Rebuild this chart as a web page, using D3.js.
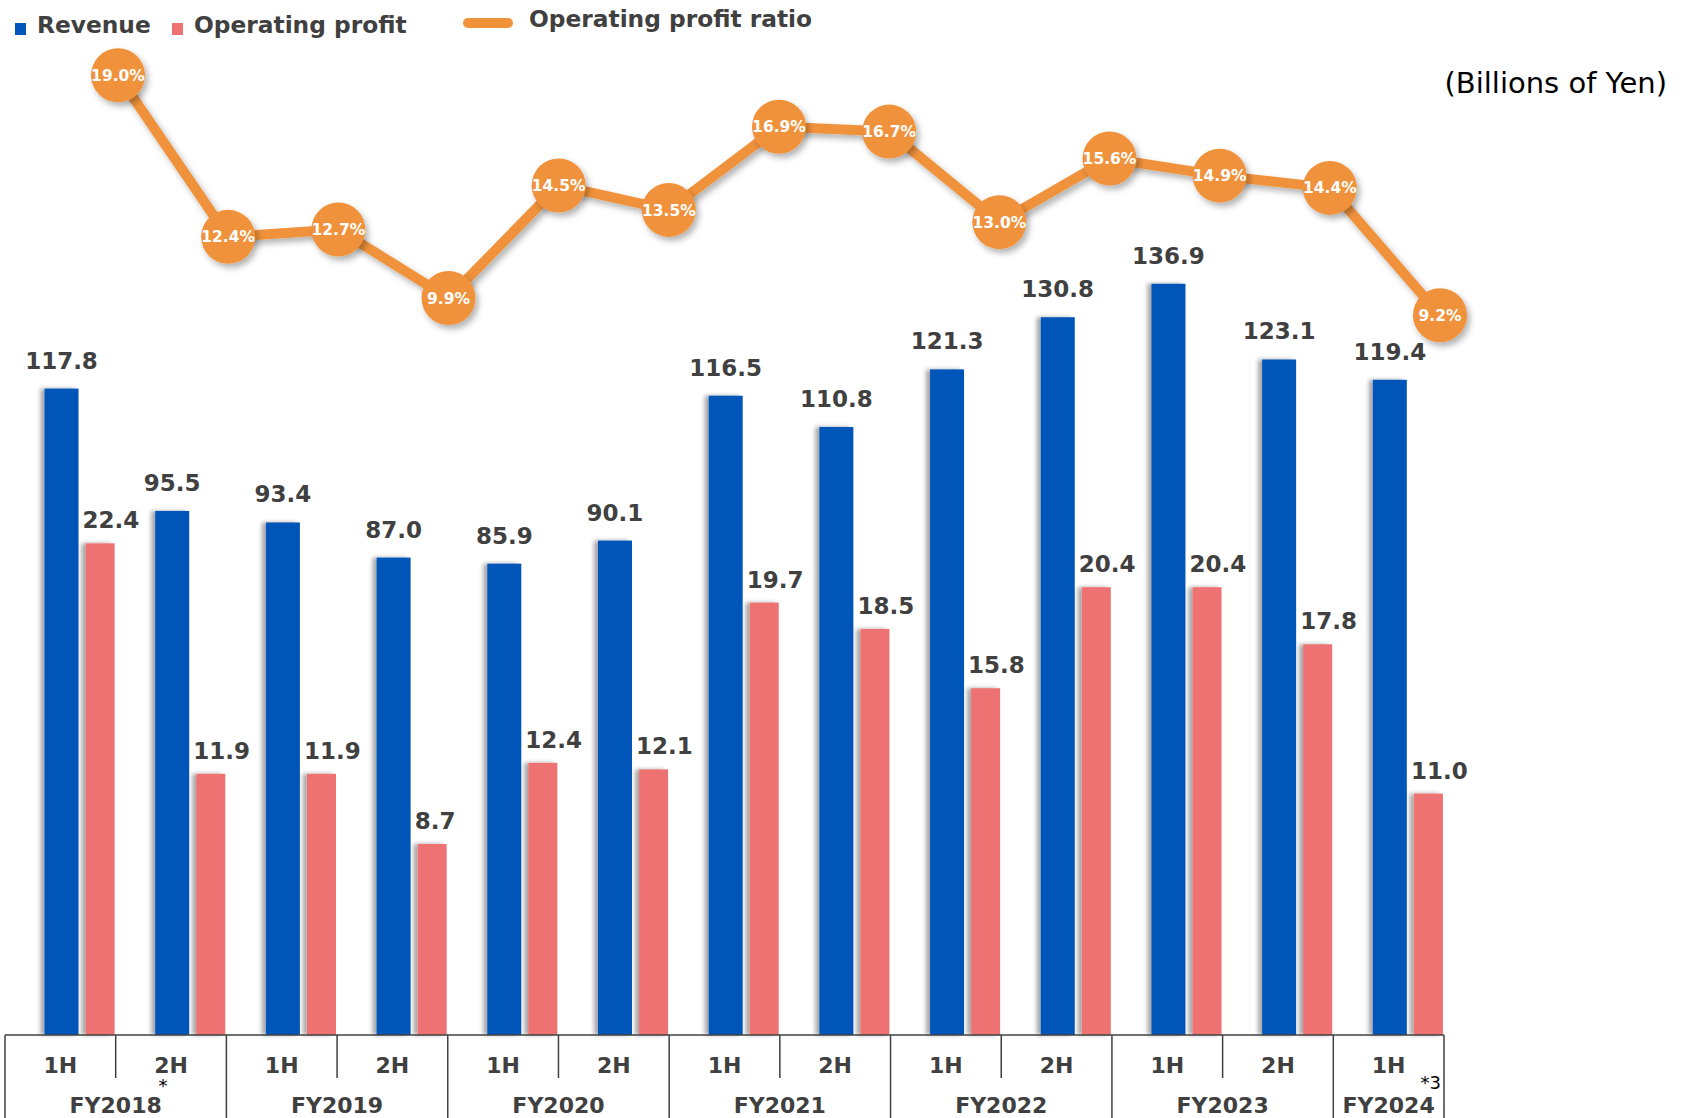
<!DOCTYPE html>
<html>
  <head>
    <meta charset="utf-8">
    <title>Revenue and Operating profit</title>
    <script src="https://d3js.org/d3.v7.min.js"></script>
    <style>
      body { margin: 0; background: #fff; }
      svg { display: block; }
      text { font-family: "DejaVu Sans", Verdana, sans-serif; }
    </style>
  </head>
  <body>
    <div id="chart"></div>
    <script>
      // data
      var halves = ["1H", "2H", "1H", "2H", "1H", "2H", "1H", "2H", "1H", "2H", "1H", "2H", "1H"];
      var years = ["FY2018", "FY2019", "FY2020", "FY2021", "FY2022", "FY2023", "FY2024"];
      var halvesPerYear = [2, 2, 2, 2, 2, 2, 1];
      var revenue = [117.8, 95.5, 93.4, 87.0, 85.9, 90.1, 116.5, 110.8, 121.3, 130.8, 136.9, 123.1, 119.4];
      var profit = [22.4, 11.9, 11.9, 8.7, 12.4, 12.1, 19.7, 18.5, 15.8, 20.4, 20.4, 17.8, 11.0];
      var ratio = [19.0, 12.4, 12.7, 9.9, 14.5, 13.5, 16.9, 16.7, 13.0, 15.6, 14.9, 14.4, 9.2];

      var W = 1687, H = 1118;
      var base = 1035;
      var blue = "#0055b8", pink = "#ef7272", orange = "#f0923a", ink = "#404040";

      var svg = d3.select("#chart").append("svg")
        .attr("width", W)
        .attr("height", H);

      var defs = svg.append("defs");
      var f1 = defs.append("filter").attr("id", "barShadow")
        .attr("x", "-30%").attr("y", "-5%").attr("width", "160%").attr("height", "110%");
      f1.append("feDropShadow").attr("dx", -4).attr("dy", 0).attr("stdDeviation", 2)
        .attr("flood-color", "#000").attr("flood-opacity", 0.35);
      var f2 = defs.append("filter").attr("id", "dotShadow")
        .attr("x", "-30%").attr("y", "-30%").attr("width", "160%").attr("height", "160%");
      f2.append("feDropShadow").attr("dx", 3).attr("dy", 4).attr("stdDeviation", 3)
        .attr("flood-color", "#000").attr("flood-opacity", 0.3);

      var ids = halves.map(function(d, i) { return i; });

      var x = d3.scaleBand().domain(ids).range([5, 1444]).padding(0);
      var xLine = d3.scalePoint().domain(ids).range([118, 1440]);
      var yRev = d3.scaleLinear().domain([0, 160]).range([base, 157]);
      var yProf = d3.scaleLinear().domain([0, 40]).range([base, 157]);
      var yRatio = d3.scaleLinear().domain([0, 20]).range([540.4, 50.8]);

      var bw = x.bandwidth();
      var blueOff = bw * 0.357, blueW = 34;
      var pinkOff = bw * 0.728, pinkW = 29;

      // bars
      var g = svg.append("g");
      g.selectAll(".rev")
        .data(revenue)
        .enter().append("rect")
        .attr("class", "rev")
        .attr("x", function(d, i) { return x(i) + blueOff; })
        .attr("y", function(d) { return yRev(d); })
        .attr("width", blueW)
        .attr("height", function(d) { return base - yRev(d); })
        .attr("fill", blue)
        .attr("filter", "url(#barShadow)");
      g.selectAll(".prof")
        .data(profit)
        .enter().append("rect")
        .attr("class", "prof")
        .attr("x", function(d, i) { return x(i) + pinkOff; })
        .attr("y", function(d) { return yProf(d); })
        .attr("width", pinkW)
        .attr("height", function(d) { return base - yProf(d); })
        .attr("fill", pink)
        .attr("filter", "url(#barShadow)");

      g.selectAll(".revLabel")
        .data(revenue)
        .enter().append("text")
        .attr("x", function(d, i) { return x(i) + blueOff + blueW / 2; })
        .attr("y", function(d) { return yRev(d) - 20; })
        .attr("text-anchor", "middle")
        .attr("font-size", 23)
        .attr("font-weight", "bold")
        .attr("fill", ink)
        .text(function(d) { return d.toFixed(1); });
      g.selectAll(".profLabel")
        .data(profit)
        .enter().append("text")
        .attr("x", function(d, i) { return x(i) + pinkOff - 3; })
        .attr("y", function(d) { return yProf(d) - 15; })
        .attr("text-anchor", "start")
        .attr("font-size", 23)
        .attr("font-weight", "bold")
        .attr("fill", ink)
        .text(function(d) { return d.toFixed(1); });

      // ratio line
      var line = d3.line()
        .x(function(d, i) { return xLine(i); })
        .y(function(d) { return yRatio(d); });
      var lg = svg.append("g");
      lg.append("path")
        .datum(ratio)
        .attr("d", line)
        .attr("fill", "none")
        .attr("stroke", orange)
        .attr("stroke-width", 10)
        .attr("stroke-linejoin", "round")
        .attr("filter", "url(#dotShadow)");
      lg.selectAll("circle")
        .data(ratio)
        .enter().append("circle")
        .attr("cx", function(d, i) { return xLine(i); })
        .attr("cy", function(d) { return yRatio(d); })
        .attr("r", 27)
        .attr("fill", orange)
        .attr("filter", "url(#dotShadow)");
      lg.selectAll(".ratioLabel")
        .data(ratio)
        .enter().append("text")
        .attr("x", function(d, i) { return xLine(i); })
        .attr("y", function(d) { return yRatio(d); })
        .attr("dy", "0.36em")
        .attr("text-anchor", "middle")
        .attr("font-size", 15.5)
        .attr("font-weight", "bold")
        .attr("fill", "#fff")
        .text(function(d) { return d.toFixed(1) + "%"; });

      // category table under the bars
      var ax = svg.append("g").attr("stroke", ink).attr("stroke-width", 1.5);
      ax.append("line").attr("x1", x(0)).attr("x2", x(12) + bw).attr("y1", base).attr("y2", base);
      var starts = [];
      var s = 0;
      halvesPerYear.forEach(function(n) { starts.push(s); s += n; });
      starts.concat([s]).forEach(function(k) {
        var xx = k < halves.length ? x(k) : x(halves.length - 1) + bw;
        ax.append("line").attr("x1", xx).attr("x2", xx).attr("y1", base).attr("y2", H);
      });
      starts.forEach(function(k, j) {
        if (halvesPerYear[j] > 1) {
          ax.append("line").attr("x1", x(k + 1)).attr("x2", x(k + 1)).attr("y1", base).attr("y2", 1078);
        }
      });

      svg.append("g").selectAll("text")
        .data(halves)
        .enter().append("text")
        .attr("x", function(d, i) { return x(i) + bw / 2; })
        .attr("y", 1073)
        .attr("text-anchor", "middle")
        .attr("font-size", 22)
        .attr("font-weight", "bold")
        .attr("fill", ink)
        .text(function(d) { return d; });
      svg.append("g").selectAll("text")
        .data(years)
        .enter().append("text")
        .attr("x", function(d, j) { return x(starts[j]) + bw * halvesPerYear[j] / 2; })
        .attr("y", 1113)
        .attr("text-anchor", "middle")
        .attr("font-size", 22)
        .attr("font-weight", "bold")
        .attr("fill", ink)
        .text(function(d) { return d; });

      // footnote marks
      svg.append("text").attr("x", x(1) + bw / 2 - 8).attr("y", 1092)
        .attr("text-anchor", "middle").attr("font-size", 18).attr("fill", "#000")
        .attr("font-family", "Noto Sans").text("*");
      svg.append("text").attr("x", x(12) + bw - 3).attr("y", 1089)
        .attr("text-anchor", "end").attr("font-size", 18).attr("fill", "#000")
        .attr("font-family", "Noto Sans").text("*3");

      // unit
      svg.append("text").attr("x", 1667).attr("y", 93)
        .attr("text-anchor", "end").attr("font-size", 29).attr("fill", "#000")
        .attr("font-family", "'Noto Sans CJK JP', 'Noto Sans', sans-serif")
        .text("(Billions of Yen)");

      // legend
      var leg = svg.append("g").attr("font-size", 23.3).attr("font-weight", "bold").attr("fill", ink);
      leg.append("rect").attr("x", 15).attr("y", 23).attr("width", 11).attr("height", 12).attr("fill", blue);
      leg.append("text").attr("x", 37).attr("y", 33).text("Revenue");
      leg.append("rect").attr("x", 172).attr("y", 23).attr("width", 11).attr("height", 12).attr("fill", pink);
      leg.append("text").attr("x", 194).attr("y", 33).text("Operating profit");
      leg.append("line").attr("x1", 468).attr("x2", 508).attr("y1", 23).attr("y2", 23)
        .attr("stroke", orange).attr("stroke-width", 10).attr("stroke-linecap", "round");
      leg.append("text").attr("x", 529).attr("y", 27).text("Operating profit ratio");
    </script>
  </body>
</html>
